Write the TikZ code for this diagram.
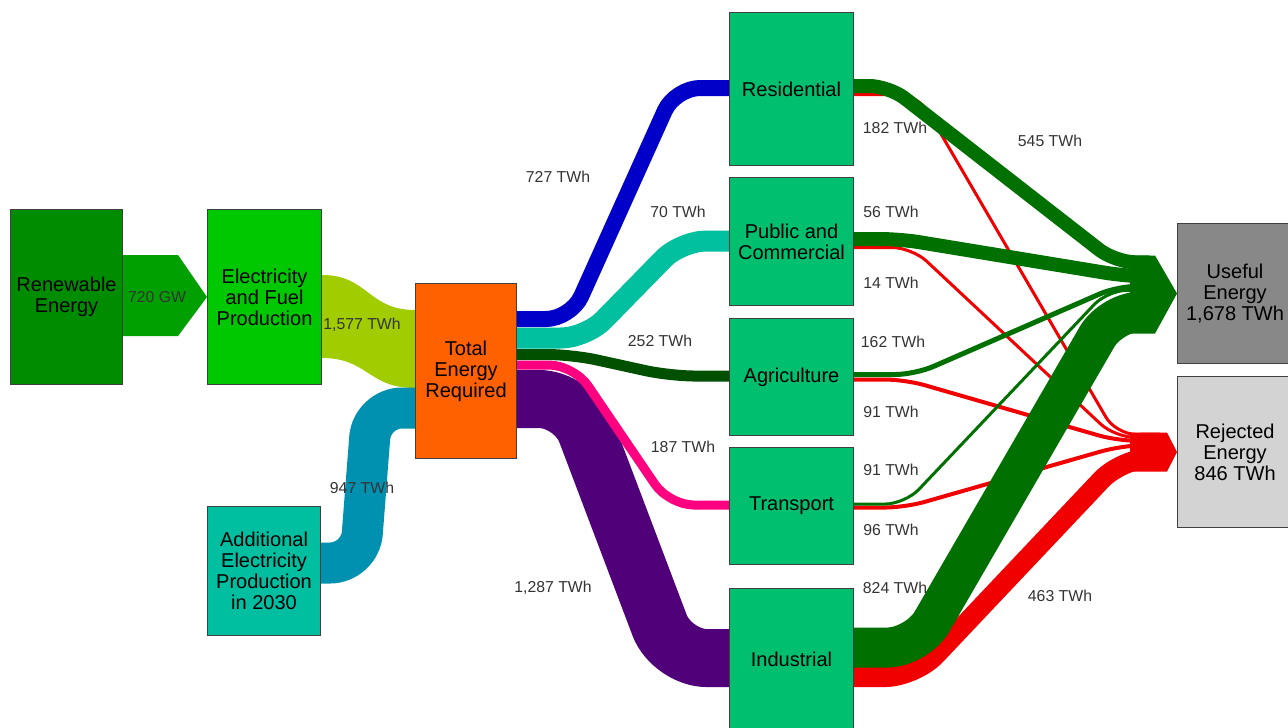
\documentclass[tikz,border=0pt]{standalone}
\usepackage{fontspec}
\setmainfont{Liberation Sans}
\usetikzlibrary{arrows.meta, positioning, calc, backgrounds}

\definecolor{renGreen}{RGB}{0,140,0}
\definecolor{genGreen}{RGB}{0,200,0}
\definecolor{arrGreen}{RGB}{0,160,0}
\definecolor{limeFlow}{RGB}{160,204,0}
\definecolor{totOrange}{RGB}{255,96,0}
\definecolor{addTeal}{RGB}{0,190,160}
\definecolor{addFlow}{RGB}{0,144,176}
\definecolor{sectGreen}{RGB}{0,192,112}
\definecolor{resBlue}{RGB}{0,0,200}
\definecolor{pubTeal}{RGB}{0,192,160}
\definecolor{agrGreen}{RGB}{0,80,0}
\definecolor{traPink}{RGB}{255,0,128}
\definecolor{indPurple}{RGB}{80,0,120}
\definecolor{usefulGreen}{RGB}{0,112,0}
\definecolor{lossRed}{RGB}{240,0,0}
\definecolor{usefulGray}{RGB}{136,136,136}
\definecolor{rejGray}{RGB}{211,211,211}

\begin{document}
\begin{tikzpicture}[
  x=0.02cm, y=-0.02cm,
  box/.style={draw=black!75,line width=0.6pt,inner sep=1pt,align=center,font=\fontsize{11.4}{11.9}\selectfont},
  sector/.style={box,fill=sectGreen,minimum width=2.48cm},
  flow/.style={line width=#1*0.02cm,rounded corners=0.4cm},
  val/.style={font=\fontsize{9}{10}\selectfont,text=black!80,inner sep=1pt}
]
\useasboundingbox (0,0) rectangle (1288,727);

% ----- Sources -------------------------------------------------------------
\node[box,fill=renGreen,minimum width=2.24cm,minimum height=3.5cm,anchor=north west] (ren) at (10,209) {Renewable\\Energy};
\node[box,fill=genGreen,minimum width=2.28cm,minimum height=3.5cm,right=1.68cm of ren] (elec) {Electricity\\and Fuel\\Production};
\node[box,fill=addTeal,minimum width=2.26cm,minimum height=2.58cm,anchor=north west] (add) at (207,506) {Additional\\Electricity\\Production\\in 2030};
\node[box,fill=totOrange,minimum width=2.02cm,minimum height=3.5cm,anchor=north west] (tot) at (415,283) {Total\\Energy\\Required};

% ----- Sectors -------------------------------------------------------------
\node[sector,minimum height=3.06cm,anchor=north west] (res) at (729,12) {Residential};
\node[sector,minimum height=2.56cm,below=0.22cm of res] (pub) {Public and\\Commercial};
\node[sector,minimum height=2.34cm,below=0.24cm of pub] (agr) {Agriculture};
\node[sector,minimum height=2.34cm,below=0.22cm of agr] (tra) {Transport};
\node[sector,minimum height=2.84cm,below=0.46cm of tra] (ind) {Industrial};

% ----- Sinks ---------------------------------------------------------------
\node[box,fill=usefulGray,minimum width=2.3cm,minimum height=2.8cm,anchor=north west] (use) at (1177,223) {Useful\\Energy\\1,678 TWh};
\node[box,fill=rejGray,minimum width=2.3cm,minimum height=3.02cm,below=0.24cm of use] (rej) {Rejected\\Energy\\846 TWh};

\begin{scope}[on background layer]
% ----- Into Total Energy Required ------------------------------------------
\fill[arrGreen] ($(ren.north east)+(0,46)$) -- ++(55,0) -- (elec.west) -- ($(ren.north east)+(55,127)$) -- ++(-55,0) -- cycle;
\fill[limeFlow] ($(elec.north east)+(0,66)$) .. controls (368,275) and (368,310) .. ($(tot.north west)+(0,27)$)
  -- ($(tot.north west)+(0,105)$) .. controls (368,388) and (368,358) .. ($(elec.north east)+(0,149)$) -- cycle;
\draw[addFlow,flow=41,rounded corners=0.6cm] ($(add.north east)+(0,57)$) -- (360,563) -- (372,408) -- ($(tot.north west)+(0,125)$);

% ----- Total Energy Required -> sectors -------------------------------------
\draw[resBlue,flow=16,rounded corners=0.5cm] ($(tot.north east)+(0,36)$) -- (571,319) -- (675,88) -- ($(res.north west)+(0,76)$);
\draw[pubTeal,flow=21,rounded corners=0.5cm] ($(tot.north east)+(0,55)$) -- (586,338) -- (681,241) -- ($(pub.north west)+(0,64)$);
\draw[agrGreen,flow=11,rounded corners=0.5cm] ($(tot.north east)+(0,71.5)$) -- (572,354.5) -- (670,376) -- ($(agr.north west)+(0,58)$);
\draw[indPurple,flow=58,rounded corners=0.7cm] ($(tot.north east)+(0,116)$) -- (574,399) -- (672,658) -- ($(ind.north west)+(0,70)$);
\draw[traPink,flow=9,rounded corners=0.5cm] ($(tot.north east)+(0,82)$) -- (574,365) -- (669,505) -- ($(tra.north west)+(0,58)$);

% ----- Sectors -> Rejected Energy ------------------------------------------
\draw[lossRed,flow=3] ($(res.north east)+(0,82.5)$) -- (918,94.5) -- (1116,434.5) -- ($(rej.west)+(-17,-18)$);
\draw[lossRed,flow=3] ($(pub.north east)+(0,70.5)$) -- (912,247.5) -- (1115,437.5) -- ($(rej.west)+(-17,-15)$);
\draw[lossRed,flow=4] ($(agr.north east)+(0,61.5)$) -- (905,379.5) -- (1118,441) -- ($(rej.west)+(-17,-11.5)$);
\draw[lossRed,flow=4] ($(tra.north east)+(0,60.5)$) -- (905,507.5) -- (1120,446) -- ($(rej.west)+(-17,-7.5)$);
\draw[lossRed,flow=20,rounded corners=0.6cm] ($(ind.north east)+(0,89)$) -- (915,677) -- (1122,458) -- ($(rej.west)+(-17,5.5)$);

% ----- Sectors -> Useful Energy --------------------------------------------
\draw[usefulGreen,flow=14] ($(res.north east)+(0,74)$) -- (889,86) -- (1115,262) -- ($(use.west)+(-27,-31)$);
\draw[usefulGreen,flow=14] ($(pub.north east)+(0,62)$) -- (900,239) -- (1125,276) -- ($(use.west)+(-27,-17)$);
\draw[usefulGreen,flow=5] ($(agr.north east)+(0,56.5)$) -- (915,374.5) -- (1118,286) -- ($(use.west)+(-27,-7)$);
\draw[usefulGreen,flow=3] ($(tra.north east)+(0,57)$) -- (905,504) -- (1108,290) -- ($(use.west)+(-27,-3)$);
\draw[usefulGreen,flow=40,rounded corners=0.6cm] ($(ind.north east)+(0,59.5)$) -- (917,647.5) -- (1112,311) -- ($(use.west)+(-27,18)$);

% ----- Arrow heads at the sinks --------------------------------------------
\fill[usefulGreen] ($(use.west)+(-47,-38)$) -- ($(use.west)+(-22,-38)$) -- (use.west) -- ($(use.west)+(-22,40)$) -- ($(use.west)+(-47,40)$) -- cycle;
\fill[lossRed] ($(rej.west)+(-47,-19.5)$) -- ($(rej.west)+(-10,-19.5)$) -- (rej.west) -- ($(rej.west)+(-10,19.5)$) -- ($(rej.west)+(-47,19.5)$) -- cycle;
\end{scope}

% ----- Values --------------------------------------------------------------
\node[val] (vRen) at (157,297) {720 GW};
\node[val] (vGen) at (362,325) {1,577 TWh};
\node[val] (vAdd) at (362,488) {947 TWh};
\node[val] (vRes) at (558,177) {727 TWh};
\node[val] (vPub) at (678,212) {70 TWh};
\node[val] (vAgr) at (660,341) {252 TWh};
\node[val] (vTra) at (683,447) {187 TWh};
\node[val] (vInd) at (553,588) {1,287 TWh};
\node[val] (vResL) at (895,128) {182 TWh};
\node[val] (vResU) at (1050,141) {545 TWh};
\node[val] (vPubU) at (891,212) {56 TWh};
\node[val] (vPubL) at (891,283) {14 TWh};
\node[val] (vAgrU) at (893,342) {162 TWh};
\node[val] (vAgrL) at (891,412) {91 TWh};
\node[val] (vTraU) at (891,470) {91 TWh};
\node[val] (vTraL) at (891,530) {96 TWh};
\node[val] (vIndU) at (895,588) {824 TWh};
\node[val] (vIndL) at (1060,596) {463 TWh};

\end{tikzpicture}
\end{document}
